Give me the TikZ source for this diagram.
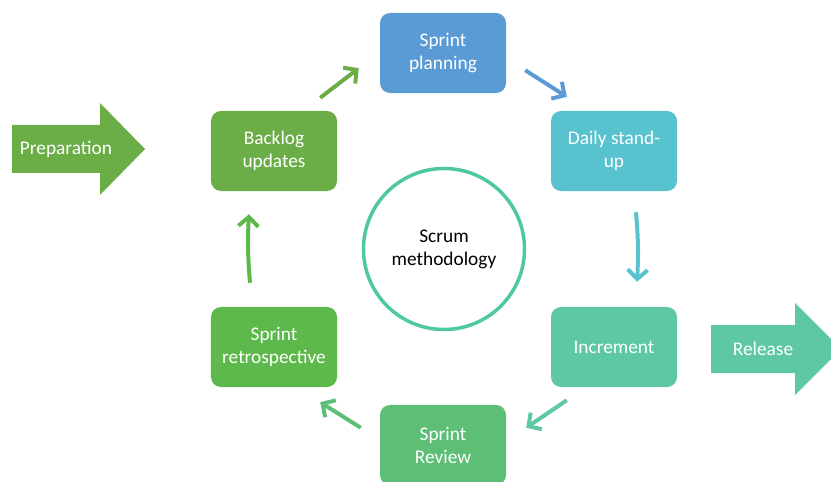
\documentclass[tikz,border=0pt]{standalone}
\usepackage{fontspec}
\setmainfont{Carlito}
\usetikzlibrary{arrows.meta}

\definecolor{planblue}{HTML}{5B9BD5}
\definecolor{dailycyan}{HTML}{58C3CF}
\definecolor{incteal}{HTML}{5EC8A5}
\definecolor{reviewgreen}{HTML}{5DBF75}
\definecolor{retrogreen}{HTML}{5DB94B}
\definecolor{backloggreen}{HTML}{6BAD46}
\definecolor{ringteal}{HTML}{4FC8A1}

\begin{document}
\begin{tikzpicture}[x=0.03cm, y=-0.03cm, >={Straight Barb[length=8pt, width=17pt]},
    stage/.style={rounded corners=0.3cm, minimum width=3.78cm, minimum height=2.4cm,
        text=white, align=center, font=\fontsize{16.5}{19.5}\selectfont},
    flow/.style={->, line width=3.4pt},
    label/.style={text=white, font=\fontsize{16.5}{18}\selectfont}]

    \clip (0,0) rectangle (831,482);

    % block arrows
    \fill[backloggreen] (12,125) -- (100,125) -- (100,103) -- (145,149) -- (100,195) -- (100,173) -- (12,173) -- cycle;
    \node[label] (prep) at (66,149) {Preparation};
    \fill[incteal] (711,325) -- (795,325) -- (795,303) -- (841,349) -- (795,395) -- (795,373) -- (711,373) -- cycle;
    \node[label] (release) at (763,349) {Release};

    \node[stage, fill=planblue] (planning) at (443,53) {Sprint\\planning};
    \node[stage, fill=dailycyan] (daily) at (614,151) {Daily stand-\\up};
    \node[stage, fill=incteal] (increment) at (614,347) {Increment};
    \node[stage, fill=reviewgreen] (review) at (443,445) {Sprint\\Review};
    \node[stage, fill=retrogreen] (retro) at (274,347) {Sprint\\retrospective};
    \node[stage, fill=backloggreen] (backlog) at (274,151) {Backlog\\updates};

    \node[circle, draw=ringteal, line width=3pt, minimum size=4.83cm, align=center,
        font=\fontsize{16.5}{19.5}\selectfont] (scrum) at (444,249) {Scrum\\methodology};

    \draw[flow, backloggreen] ([shift={(-17,-13)}]backlog.north east) -- ([shift={(-21,-25)}]planning.south west);
    \draw[flow, planblue] ([shift={(19,-23)}]planning.south east) -- ([shift={(16,-14)}]daily.north west);
    \draw[flow, dailycyan] ([shift={(22,21)}]daily.south) to[bend left=4] ([shift={(23,-25)}]increment.north);
    \draw[flow, incteal] ([shift={(16,13)}]increment.south west) -- ([shift={(20,23)}]review.north east);
    \draw[flow, reviewgreen] ([shift={(-19,23)}]review.north west) -- ([shift={(-17,15)}]retro.south east);
    \draw[flow, retrogreen] ([shift={(-24,-24)}]retro.north) to[bend left=4] ([shift={(-25,23)}]backlog.south);

\end{tikzpicture}
\end{document}
